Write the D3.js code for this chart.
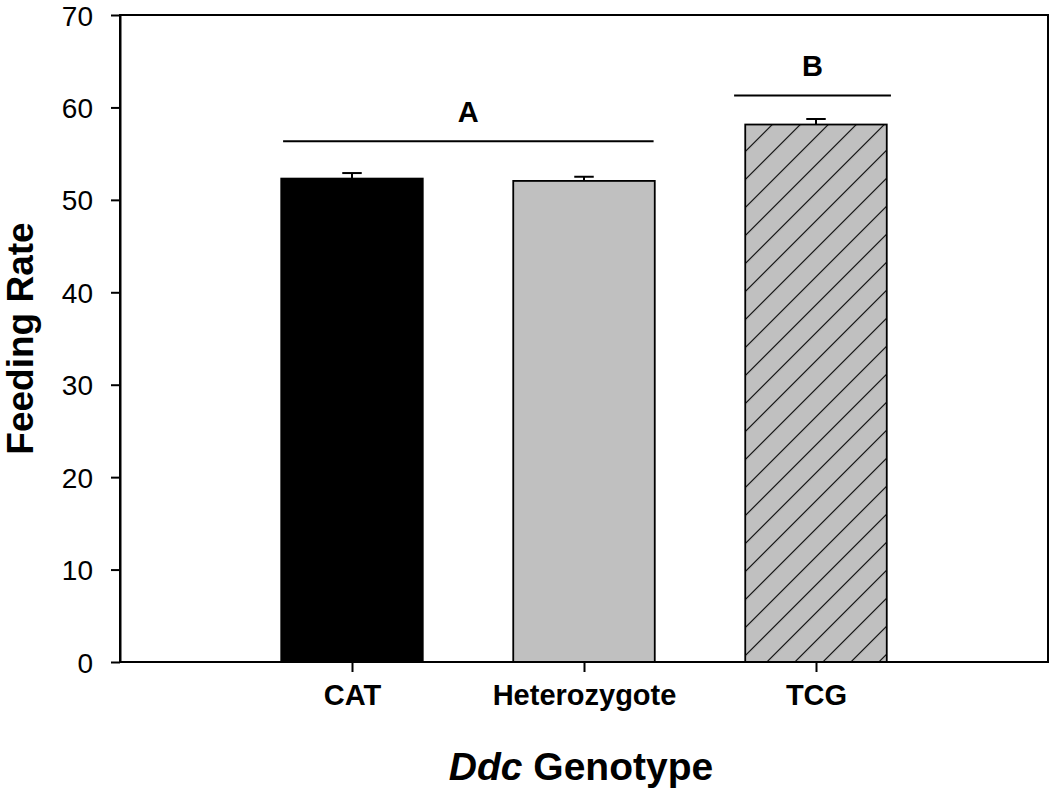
<!DOCTYPE html>
<html>
<head>
<meta charset="utf-8">
<script src="https://cdn.jsdelivr.net/npm/d3@7"></script>
<style>
  body { margin: 0; background: #fff; }
  svg { display: block; font-family: "Liberation Sans", Arial, sans-serif; }
</style>
</head>
<body>
<svg id="chart" width="1050" height="792"></svg>
<script>
// data
const genotypes = ["CAT", "Heterozygote", "TCG"];
const feedingRate = [52.3, 52.05, 58.15];
const stdErr = [0.6, 0.45, 0.6];
const yTicks = [0, 10, 20, 30, 40, 50, 60, 70];

// significance groups: letter, x span (category units), height
const groupLetters = ["A", "B"];
const groupSpans = [[0.703, 2.30], [2.647, 3.323]];
const groupLevels = [56.35, 61.3];

const svg = d3.select("#chart");
const margin = { top: 15, right: 2, bottom: 130, left: 120 };
const width = 1050, height = 792;

const x = d3.scaleLinear().domain([0, 4]).range([margin.left, width - margin.right]);
const y = d3.scaleLinear().domain([0, 70]).range([height - margin.bottom, margin.top]);

const barHalf = 0.305;
const fills = ["#000000", "#c0c0c0", "url(#hatch)"];

// hatch pattern for TCG
const defs = svg.append("defs");
const pat = defs.append("pattern")
  .attr("id", "hatch")
  .attr("patternUnits", "userSpaceOnUse")
  .attr("width", 19.8)
  .attr("height", 19.8)
  .attr("patternTransform", "rotate(45)");
pat.append("rect").attr("width", 19.8).attr("height", 19.8).attr("fill", "#c0c0c0");
pat.append("line")
  .attr("x1", 0).attr("y1", 0).attr("x2", 0).attr("y2", 19.8)
  .attr("stroke", "#000").attr("stroke-width", 2.2);

// bars
svg.selectAll(".bar")
  .data(feedingRate)
  .join("rect")
  .attr("class", "bar")
  .attr("x", (d, i) => x(i + 1 - barHalf))
  .attr("width", x(1 + barHalf) - x(1 - barHalf))
  .attr("y", d => y(d))
  .attr("height", d => y(0) - y(d))
  .attr("fill", (d, i) => fills[i])
  .attr("stroke", "#000")
  .attr("stroke-width", 1.8);

// error bars (upper only)
const capHalf = 0.042;
const err = svg.append("g").attr("stroke", "#000").attr("stroke-width", 2);
feedingRate.forEach((v, i) => {
  err.append("line")
    .attr("x1", x(i + 1)).attr("x2", x(i + 1))
    .attr("y1", y(v)).attr("y2", y(v + stdErr[i]));
  err.append("line")
    .attr("x1", x(i + 1 - capHalf)).attr("x2", x(i + 1 + capHalf))
    .attr("y1", y(v + stdErr[i])).attr("y2", y(v + stdErr[i]));
});

// frame
svg.append("rect")
  .attr("x", x(0)).attr("y", y(70))
  .attr("width", x(4) - x(0)).attr("height", y(0) - y(70))
  .attr("fill", "none").attr("stroke", "#000").attr("stroke-width", 2);

// y axis
const yAxis = svg.append("g")
  .attr("transform", `translate(${x(0)},0)`)
  .call(d3.axisLeft(y).tickValues(yTicks).tickSize(9).tickPadding(18).tickSizeOuter(0));
yAxis.select(".domain").attr("stroke-width", 2);
yAxis.selectAll(".tick line").attr("stroke-width", 2);
yAxis.selectAll(".tick text")
  .attr("font-size", 28).attr("font-family", "Liberation Sans, Arial, sans-serif")
  .attr("fill", "#000").attr("dy", "0.36em");

// x axis
const xAxis = svg.append("g")
  .attr("transform", `translate(0,${y(0)})`)
  .call(d3.axisBottom(x).tickValues([1, 2, 3]).tickFormat(d => genotypes[d - 1])
    .tickSize(10).tickPadding(12).tickSizeOuter(0));
xAxis.select(".domain").remove();
xAxis.selectAll(".tick line").attr("stroke-width", 2);
xAxis.selectAll(".tick text")
  .attr("font-size", 29).attr("font-weight", "bold")
  .attr("font-family", "Liberation Sans, Arial, sans-serif").attr("fill", "#000");

// significance lines and letters
groupLetters.forEach((g, i) => {
  const [a, b] = groupSpans[i];
  svg.append("line")
    .attr("x1", x(a)).attr("x2", x(b))
    .attr("y1", y(groupLevels[i])).attr("y2", y(groupLevels[i]))
    .attr("stroke", "#000").attr("stroke-width", 2);
  svg.append("text")
    .attr("x", x((a + b) / 2))
    .attr("y", y(groupLevels[i]) - 19)
    .attr("text-anchor", "middle")
    .attr("font-size", 29).attr("font-weight", "bold")
    .text(g);
});

// axis titles
svg.append("text")
  .attr("transform", `translate(33,${(y(0) + y(70)) / 2}) rotate(-90)`)
  .attr("text-anchor", "middle")
  .attr("font-size", 37).attr("font-weight", "bold")
  .text("Feeding Rate");

const xt = svg.append("text")
  .attr("x", (x(0) + x(4)) / 2 - 3)
  .attr("y", 780)
  .attr("text-anchor", "middle")
  .attr("font-size", 39).attr("font-weight", "bold");
xt.append("tspan").attr("font-style", "italic").text("Ddc");
xt.append("tspan").text(" Genotype");
</script>
</body>
</html>
